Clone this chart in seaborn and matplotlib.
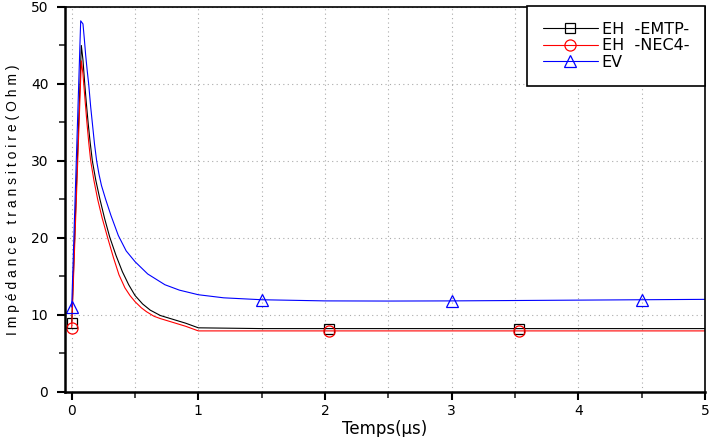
import numpy as np
import pandas as pd
import matplotlib
matplotlib.use("Agg")
import matplotlib.pyplot as plt
from matplotlib.ticker import MultipleLocator
import seaborn as sns

# Données (temps en µs, impédance en Ohm)
t_emtp = [0.0, 0.076, 0.089, 0.103, 0.115, 0.13, 0.145, 0.163, 0.19, 0.223, 0.26, 0.30,
          0.35, 0.40, 0.45, 0.5, 0.56, 0.62, 0.7, 0.8, 0.9, 1.0, 1.5, 2.03, 3.0, 3.53,
          4.0, 5.0]
z_emtp = [8.9, 45.0, 43.1, 40.0, 37.6, 34.9, 32.5, 30.0, 27.5, 25.0, 22.5, 20.1,
          17.7, 15.6, 13.9, 12.5, 11.4, 10.6, 9.9, 9.4, 8.9, 8.3, 8.2, 8.2, 8.2, 8.2,
          8.2, 8.2]
marks_emtp = [0.0, 2.03, 3.53]

t_nec4 = [0.0, 0.076, 0.089, 0.095, 0.105, 0.12, 0.135, 0.15, 0.175, 0.205, 0.24, 0.284,
          0.33, 0.373, 0.42, 0.46, 0.5, 0.55, 0.59, 0.65, 0.7, 0.8, 0.9, 1.0, 1.5,
          2.03, 3.0, 3.53, 4.0, 5.0]
z_nec4 = [8.3, 43.0, 41.3, 40.0, 38.0, 35.0, 32.3, 30.0, 27.5, 25.0, 22.6, 20.0,
          17.4, 15.2, 13.5, 12.5, 11.7, 10.9, 10.4, 9.8, 9.5, 9.0, 8.5, 7.9, 7.9,
          7.9, 7.9, 7.9, 7.9, 7.9]
marks_nec4 = [0.0, 2.03, 3.53]

t_ev = [0.0, 0.071, 0.089, 0.1, 0.11, 0.122, 0.134, 0.15, 0.165, 0.18, 0.197, 0.215,
        0.235, 0.268, 0.31, 0.368, 0.43, 0.5, 0.6, 0.736, 0.85, 1.0, 1.2, 1.5, 2.0,
        2.5, 3.0, 3.5, 4.0, 4.5, 5.0]
z_ev = [11.0, 48.2, 47.8, 45.8, 43.8, 41.8, 40.0, 37.0, 34.6, 32.2, 30.0, 28.3,
        26.8, 25.0, 22.9, 20.3, 18.3, 16.9, 15.3, 13.9, 13.2, 12.6, 12.2, 11.95, 11.8,
        11.78, 11.8, 11.85, 11.9, 11.95, 12.0]
marks_ev = [0.0, 1.5, 3.0, 4.5]

labels = ["EH  -EMTP-", "EH  -NEC4-", "EV"]

sns.set_style("ticks")
plt.rcParams["font.family"] = ["DejaVu Sans"]
plt.rcParams["text.color"] = "black"
plt.rcParams["axes.labelcolor"] = "black"

fig = plt.figure(figsize=(7.11, 4.37), dpi=100)
ax = fig.add_axes([0.0914, 0.1037, 0.9002, 0.8803])

series = [
    (t_emtp, z_emtp, marks_emtp, "black", "s", 7),
    (t_nec4, z_nec4, marks_nec4, "red", "o", 8),
    (t_ev, z_ev, marks_ev, "blue", "^", 9),
]
for (t, z, marks, col, mk, ms), lab in zip(series, labels):
    df = pd.DataFrame({"t": t, "z": z})
    every = [t.index(m) for m in marks]
    sns.lineplot(data=df, x="t", y="z", ax=ax, color=col, lw=0.8, sort=False,
                 estimator=None, marker=mk, markersize=ms, markevery=every,
                 markerfacecolor="none", markeredgecolor=col, markeredgewidth=0.9,
                 label=lab)

ax.set_xlim(-0.053, 5)
ax.set_ylim(0, 50)
ax.xaxis.set_major_locator(MultipleLocator(1))
ax.xaxis.set_minor_locator(MultipleLocator(0.5))
ax.yaxis.set_major_locator(MultipleLocator(10))
ax.yaxis.set_minor_locator(MultipleLocator(5))
ax.grid(True, which="major", axis="y", ls=(0, (1, 3)), color="#aaaaaa", lw=0.8)
ax.grid(True, which="both", axis="x", ls=(0, (1, 3)), color="#aaaaaa", lw=0.8)
ax.tick_params(which="major", direction="out", length=6, width=1.5, labelsize=10,
               colors="black")
ax.tick_params(axis="y", which="major", pad=6)
ax.tick_params(axis="x", which="major", pad=3)
ax.tick_params(which="minor", direction="out", length=4, width=1.2)
for s in ["left", "bottom"]:
    ax.spines[s].set_linewidth(1.8)
for s in ["top", "right"]:
    ax.spines[s].set_linewidth(1.2)
for s in ax.spines.values():
    s.set_color("black")

ax.set_xlabel("Temps(µs)", fontsize=12, labelpad=1)
ax.set_ylabel("I m p é d a n c e   t r a n s i t o i r e ( O h m )", fontsize=10,
              family=["Liberation Sans", "DejaVu Sans"], labelpad=8)

leg = ax.legend(loc="upper right", bbox_to_anchor=(1.0, 1.003), borderaxespad=0,
                fancybox=False, framealpha=1, edgecolor="black", fontsize=11.5,
                handlelength=3.4, handletextpad=0.25, borderpad=1.0, labelspacing=0.1)
leg.get_frame().set_linewidth(1.2)
for txt in leg.get_texts():
    txt.set_color("black")

fig.savefig("out.png", dpi=100)
